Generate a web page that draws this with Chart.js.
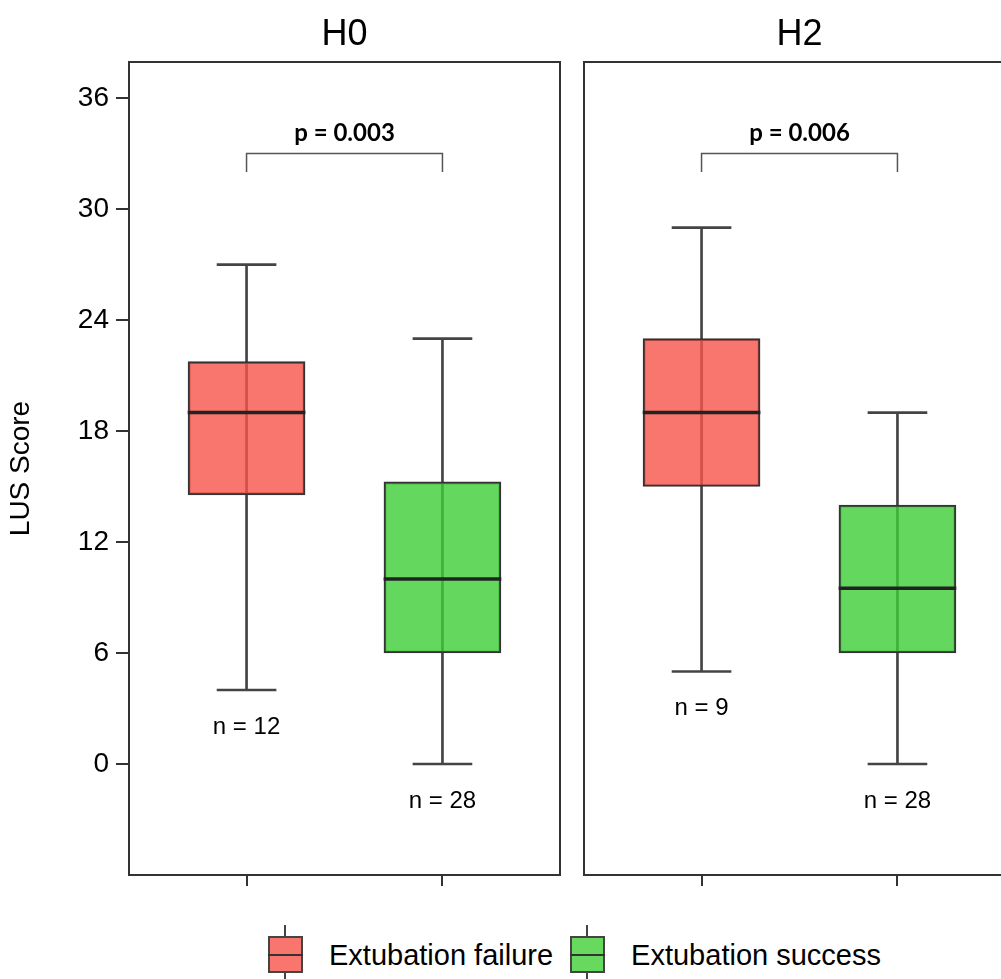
<!DOCTYPE html>
<html>
<head>
<meta charset="utf-8">
<title>LUS Score H0 / H2</title>
<script src="https://cdn.jsdelivr.net/npm/chart.js"></script>
<style>
  html, body { margin: 0; padding: 0; background: #fff; overflow: hidden; }
  body { width: 1001px; height: 979px; position: relative; font-family: 'Liberation Sans', Arial, sans-serif; }
  #cH0 { position: absolute; left: 0; top: 0; }
  #cH2 { position: absolute; left: 560px; top: 0; }
  .legend { position: absolute; left: 268px; top: 925px; display: flex; align-items: flex-start; }
  .key { position: relative; width: 35px; height: 60px; }
  .key .wh { position: absolute; left: 16px; top: 0; width: 2px; height: 60px; background: #444; }
  .key .bx { position: absolute; left: 0; top: 11px; width: 31px; height: 33px; border: 2px solid #444; }
  .key .md { position: absolute; left: 0; top: 29px; width: 35px; height: 2px; background: #333; }
  .lab { font-size: 29px; color: #000; line-height: 32px; margin-top: 14px; margin-left: 26px; margin-right: 17px; }
</style>
</head>
<body>
<canvas id="cH0" width="570" height="900"></canvas>
<canvas id="cH2" width="470" height="900"></canvas>
<div class="legend">
  <div class="key"><div class="wh"></div><div class="bx" style="background:#f8766d"></div><div class="md"></div></div>
  <div class="lab">Extubation failure</div>
  <div class="key"><div class="wh"></div><div class="bx" style="background:#66d95e"></div><div class="md"></div></div>
  <div class="lab">Extubation success</div>
</div>
<script>
// groups shown in each panel
const groups = ['Extubation failure', 'Extubation success'];

// H0 box statistics (LUS score)
const h0Min = [4, 0];
const h0Q1 = [14.55, 6];
const h0Median = [19, 10];
const h0Q3 = [21.75, 15.25];
const h0Max = [27, 23];
const h0N = [12, 28];
const h0P = 'p = 0.003';

// H2 box statistics
const h2Min = [5, 0];
const h2Q1 = [15, 6];
const h2Median = [19, 9.5];
const h2Q3 = [23, 14];
const h2Max = [29, 19];
const h2N = [9, 28];
const h2P = 'p = 0.006';

const yTicks = [0, 6, 12, 18, 24, 30, 36];

const fills = ['rgba(246,84,72,0.8)', 'rgba(61,205,55,0.8)'];
const FONT = "'Liberation Sans', Arial, sans-serif";

const panelPlugin = {
  id: 'panel',
  afterDatasetsDraw(chart, args, opts) {
    const { ctx, chartArea: a, scales: { x, y } } = chart;
    ctx.save();
    ctx.strokeStyle = '#333';
    ctx.lineWidth = 2;
    ctx.strokeRect(a.left, a.top, a.right - a.left, a.bottom - a.top);
    ctx.fillStyle = '#000';
    ctx.textAlign = 'center';
    ctx.textBaseline = 'middle';
    ctx.font = '36px ' + FONT;
    ctx.fillText(opts.title, (a.left + a.right) / 2, 35);
    ctx.font = '24px ' + FONT;
    opts.mins.forEach((m, i) => {
      ctx.fillText('n = ' + opts.n[i], x.getPixelForValue(i + 1), y.getPixelForValue(m - 2));
    });
    ctx.font = 'bold 24px Lato';
    ctx.fillText(opts.p, x.getPixelForValue(1.5), y.getPixelForValue(34.1));
    ctx.restore();
  }
};

function makePanel(id, title, mins, q1s, meds, q3s, maxs, ns, p, showY) {
  const xs = groups.map((g, i) => i + 1);
  const bar = (vals, extra) => Object.assign({
    type: 'bar',
    data: xs.map((x, i) => ({ x: x, y: vals[i] })),
    grouped: false,
    borderSkipped: false
  }, extra);

  new Chart(document.getElementById(id), {
    type: 'bar',
    data: {
      datasets: [
        bar(mins.map((m, i) => [m, maxs[i]]), { backgroundColor: '#444', barThickness: 2, order: 6 }),
        bar(mins.map(m => [m - 0.055, m + 0.055]), { backgroundColor: '#444', barThickness: 59, order: 5 }),
        bar(maxs.map(m => [m - 0.055, m + 0.055]), { backgroundColor: '#444', barThickness: 59, order: 4 }),
        bar(q1s.map((q, i) => [q, q3s[i]]), { backgroundColor: fills, borderColor: '#333', borderWidth: 2, barThickness: 117, order: 3 }),
        bar(meds.map(m => [m - 0.08, m + 0.08]), { backgroundColor: '#222', barThickness: 117, order: 2 }),
        {
          type: 'line',
          data: [{ x: 1, y: 32 }, { x: 1, y: 33 }, { x: 2, y: 33 }, { x: 2, y: 32 }],
          borderColor: '#555',
          borderWidth: 1.5,
          pointRadius: 0,
          fill: false,
          order: 1
        }
      ]
    },
    options: {
      responsive: false,
      animation: false,
      layout: { padding: { top: 62, right: showY ? 10 : 15, left: showY ? 0 : 24, bottom: 0 } },
      plugins: {
        legend: { display: false },
        tooltip: { enabled: false },
        panel: { title: title, mins: mins, n: ns, p: p }
      },
      scales: {
        x: {
          type: 'linear',
          min: 0.4,
          max: 2.6,
          offset: false,
          afterBuildTicks: s => { s.ticks = xs.map(v => ({ value: v })); },
          afterFit: s => { s.height = 25; },
          ticks: { display: false },
          grid: { offset: false, drawOnChartArea: false, drawTicks: true, tickLength: 11, color: '#333', lineWidth: 2 },
          border: { display: false }
        },
        y: {
          type: 'linear',
          display: showY,
          min: -6,
          max: 37.95,
          afterBuildTicks: s => { s.ticks = yTicks.map(v => ({ value: v })); },
          afterFit: s => { s.width = showY ? 129 : 0; },
          ticks: { color: '#000', font: { family: FONT, size: 28 }, padding: 7 },
          grid: { drawOnChartArea: false, drawTicks: true, tickLength: 13, color: '#333', lineWidth: 2 },
          border: { display: false },
          title: { display: true, text: 'LUS Score', color: '#000', font: { family: FONT, size: 28 } }
        }
      }
    },
    plugins: [panelPlugin]
  });
}

makePanel('cH0', 'H0', h0Min, h0Q1, h0Median, h0Q3, h0Max, h0N, h0P, true);
makePanel('cH2', 'H2', h2Min, h2Q1, h2Median, h2Q3, h2Max, h2N, h2P, false);
</script>
</body>
</html>
